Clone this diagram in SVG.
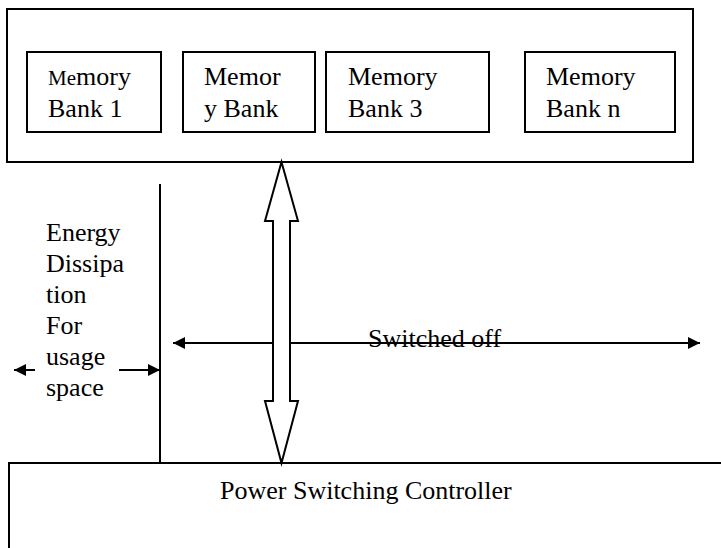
<svg xmlns="http://www.w3.org/2000/svg" width="721" height="548" viewBox="0 0 721 548">
<defs>
<style>
.box{fill:#fff;stroke:#000;stroke-width:2}
.ln{fill:none;stroke:#000;stroke-width:2}
.t{font-family:"Liberation Serif","Times New Roman",serif;font-size:26px;fill:#000}
</style>
<marker id="ah" viewBox="0 0 12 12" refX="12" refY="6" markerWidth="12" markerHeight="12" markerUnits="userSpaceOnUse" orient="auto-start-reverse">
<path d="M0,0 L12,6 L0,12 Z" fill="#000"/>
</marker>
</defs>
<rect width="721" height="548" fill="#fff"/>
<g id="memory-unit">
<rect class="box" x="7" y="9" width="686" height="153"/>
</g>
<g id="bank1">
<rect class="box" x="27" y="52" width="134" height="80"/>
<text class="t" x="48" y="85"><tspan font-size="21">Me</tspan>mory</text>
<text class="t" x="48" y="117">Bank 1</text>
</g>
<g id="bank2">
<rect class="box" x="183" y="52" width="132" height="80"/>
<text class="t" x="204" y="85">Memor</text>
<text class="t" x="204" y="117">y Bank</text>
</g>
<g id="bank3">
<rect class="box" x="326" y="52" width="163" height="80"/>
<text class="t" x="348" y="85">Memory</text>
<text class="t" x="348" y="117">Bank 3</text>
</g>
<g id="bankn">
<rect class="box" x="525" y="52" width="150" height="80"/>
<text class="t" x="546" y="85">Memory</text>
<text class="t" x="546" y="117">Bank n</text>
</g>
<g id="controller">
<rect class="box" x="9" y="463" width="720" height="100"/>
<text class="t" x="220" y="499">Power Switching Controller</text>
</g>
<g id="energy-label">
<text class="t" x="46" y="241">Energy</text>
<text class="t" x="46" y="272">Dissipa</text>
<text class="t" x="46" y="303">tion</text>
<text class="t" x="46" y="334">For</text>
<text class="t" x="46" y="365">usage</text>
<text class="t" x="46" y="396">space</text>
</g>
<g id="switched-label">
<text class="t" x="368" y="347">Switched off</text>
</g>
<g id="connectors">
<line class="ln" x1="160" y1="184" x2="160" y2="463"/>
<line class="ln" x1="173" y1="343" x2="700" y2="343" marker-start="url(#ah)" marker-end="url(#ah)"/>
<line class="ln" x1="35" y1="370" x2="14" y2="370" marker-end="url(#ah)"/>
<line class="ln" x1="119" y1="370" x2="160" y2="370" marker-end="url(#ah)"/>
<path class="box" d="M281.5,162 L298,221 L290,221 L290,401 L298,401 L281.5,463 L265,401 L273,401 L273,221 L265,221 Z"/>
</g>
</svg>
